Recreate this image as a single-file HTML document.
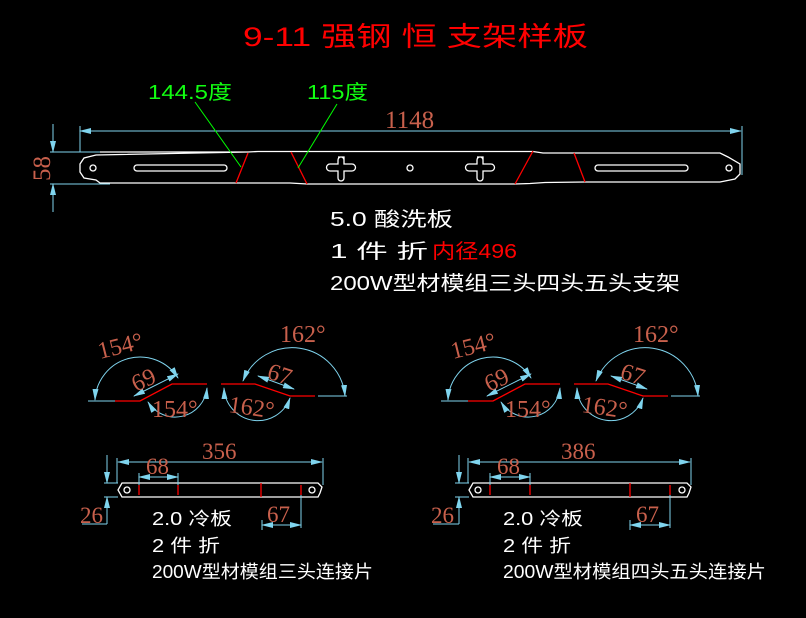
<!DOCTYPE html>
<html><head><meta charset="utf-8"><style>
html,body{margin:0;padding:0;background:#000;}
svg{display:block}
.c{stroke:#7fd4ee;fill:none;stroke-width:1}
.w{stroke:#fff;fill:none;stroke-width:1.3}
.r{stroke:#f00;fill:none;stroke-width:1.3}
.d{fill:#c8604c;font-family:"Liberation Serif",serif;}
.t{fill:#fff;font-family:"Liberation Sans","Noto Sans CJK SC",sans-serif;}
</style></head><body>
<svg width="806" height="618" viewBox="0 0 806 618" xmlns="http://www.w3.org/2000/svg">
<defs>
<marker id="a" markerWidth="12" markerHeight="6" refX="11" refY="3" orient="auto" markerUnits="userSpaceOnUse"><path d="M0,0 L12,3 L0,6 Z" fill="#7fd4ee"/></marker>
<marker id="b" markerWidth="12" markerHeight="6" refX="1" refY="3" orient="auto" markerUnits="userSpaceOnUse"><path d="M12,0 L0,3 L12,6 Z" fill="#7fd4ee"/></marker>
</defs>
<text x="243" y="46" fill="#f00" font-size="27" font-family="Liberation Sans,Noto Sans CJK SC,sans-serif" textLength="345" lengthAdjust="spacingAndGlyphs">9-11 强钢 恒 支架样板</text>

<line class="c" x1="80" y1="131" x2="741" y2="131" marker-start="url(#b)" marker-end="url(#a)"/>
<line class="c" x1="80" y1="126" x2="80" y2="152"/>
<line class="c" x1="742" y1="126" x2="742" y2="175"/>
<text class="d" x="385" y="128" font-size="25">1148</text>
<line class="c" x1="50" y1="152" x2="110" y2="152"/>
<line class="c" x1="50" y1="184" x2="110" y2="184"/>
<line class="c" x1="53" y1="124" x2="53" y2="152" marker-end="url(#a)"/>
<line class="c" x1="53" y1="212" x2="53" y2="184" marker-end="url(#a)"/>
<text class="d" font-size="25" transform="translate(50,181) rotate(-90)">58</text>

<path class="w" d="M100,152 L248,152 M248,152 L258,151.5 L291,151.5 L533,151.5 L543,153 L574,153 L720,153 L728,157 L740,164 L740,174 L735,179 L720,182 L585,182 L545,182.5 L530,183.5 L515,184 L307,184 L290,183 L236,183 L100,183 L96,180 L84,178 L80,172 L80,164 L84,158 L96,155 Z"/>
<circle class="w" cx="93" cy="168" r="3"/>
<circle class="w" cx="410" cy="168" r="3"/>
<circle class="w" cx="729" cy="168" r="3"/>
<rect class="w" x="134" y="165" width="93" height="6" rx="3"/>
<rect class="w" x="595" y="165" width="93" height="6" rx="3"/>
<path class="w" d="M338,157 h6 v7 h8 a3,3 0 0 1 0,7 h-8 v7 a3,3 0 0 1 -6,0 v-7 h-8 a3,3 0 0 1 0,-7 h8 v-4 a3,3 0 0 1 6,0"/>
<path class="w" d="M477,157 h6 v7 h8 a3,3 0 0 1 0,7 h-8 v7 a3,3 0 0 1 -6,0 v-7 h-8 a3,3 0 0 1 0,-7 h8 v-4 a3,3 0 0 1 6,0"/>
<line class="r" x1="248" y1="153" x2="236" y2="183"/>
<line class="r" x1="291" y1="152" x2="307" y2="184"/>
<line class="r" x1="533" y1="151" x2="515" y2="184"/>
<line class="r" x1="574" y1="153" x2="585" y2="182"/>
<line x1="195" y1="102" x2="241" y2="167" stroke="#0f0" stroke-width="1"/>
<line x1="337" y1="104" x2="298" y2="168" stroke="#0f0" stroke-width="1"/>
<text x="148" y="99" fill="#1f1" font-size="20" font-family="Liberation Sans,Noto Sans CJK SC,sans-serif" textLength="84" lengthAdjust="spacingAndGlyphs">144.5度</text>
<text x="307" y="99" fill="#1f1" font-size="20" font-family="Liberation Sans,Noto Sans CJK SC,sans-serif" textLength="61" lengthAdjust="spacingAndGlyphs">115度</text>

<text class="t" x="330" y="226" font-size="20" textLength="123" lengthAdjust="spacingAndGlyphs">5.0 酸洗板</text>
<text class="t" x="330" y="258" font-size="20" textLength="98" lengthAdjust="spacingAndGlyphs">1 件 折</text>
<text x="432" y="258" fill="#f00" font-size="20" font-family="Liberation Sans,Noto Sans CJK SC,sans-serif" textLength="85" lengthAdjust="spacingAndGlyphs">内径496</text>
<text class="t" x="330" y="290" font-size="20" textLength="350" lengthAdjust="spacingAndGlyphs">200W型材模组三头四头五头支架</text>

<g id="bend">
<path class="r" d="M115,401 L140,401 L172,384 L207,384 M221,384 L255,384 L290,396 L315,396"/>
<path class="c" d="M88,401 L115,401 M318,396 L347,396"/>
<path class="c" d="M178,378 A45,45 0 0 0 95,400" marker-start="url(#b)" marker-end="url(#a)"/>
<path class="c" d="M148,402 A32,32 0 0 0 207,388" marker-start="url(#b)" marker-end="url(#a)"/>
<path class="c" d="M243,381 A53,53 0 0 1 345,396" marker-start="url(#b)" marker-end="url(#a)"/>
<path class="c" d="M224,388 A34,34 0 0 0 290,398" marker-start="url(#b)" marker-end="url(#a)"/>
<line class="c" x1="134" y1="396" x2="178" y2="374" marker-start="url(#b)" marker-end="url(#a)"/>
<line class="c" x1="258" y1="376" x2="294" y2="389" marker-start="url(#b)" marker-end="url(#a)"/>
<text class="d" font-size="24" transform="translate(100,359) rotate(-14)">154°</text>
<text class="d" font-size="24" transform="translate(136,392) rotate(-25)">69</text>
<text class="d" font-size="24" x="152" y="417">154°</text>
<text class="d" font-size="24" x="280" y="342">162°</text>
<text class="d" font-size="24" transform="translate(266,378) rotate(18)">67</text>
<text class="d" font-size="24" transform="translate(228,412) rotate(8)">162°</text>
</g>
<use href="#bend" transform="translate(353,0)"/>

<path class="w" d="M122,483 L318,483 L322,487 L320,493 L318,497 L122,497 L118,490 Z"/>
<circle class="w" cx="127" cy="490" r="3"/>
<circle class="w" cx="312" cy="490" r="3"/>
<path class="r" d="M139,485 v10 M178,485 v10 M261,483 v14 M301,485 v10"/>
<line class="c" x1="118" y1="462" x2="322" y2="462" marker-start="url(#b)" marker-end="url(#a)"/>
<line class="c" x1="117" y1="458" x2="117" y2="483"/><line class="c" x1="323" y1="458" x2="323" y2="485"/>
<line class="c" x1="139" y1="477" x2="178" y2="477" marker-start="url(#b)" marker-end="url(#a)"/>
<line class="c" x1="139" y1="473" x2="139" y2="485"/><line class="c" x1="178" y1="473" x2="178" y2="485"/>
<line class="c" x1="262" y1="525" x2="301" y2="525" marker-start="url(#b)" marker-end="url(#a)"/>
<line class="c" x1="301" y1="495" x2="301" y2="528"/><line class="c" x1="262" y1="520" x2="262" y2="530"/>
<line class="c" x1="104" y1="483" x2="118" y2="483"/><line class="c" x1="104" y1="497" x2="118" y2="497"/>
<line class="c" x1="107" y1="455" x2="107" y2="483" marker-end="url(#a)"/>
<line class="c" x1="107" y1="524" x2="107" y2="497" marker-end="url(#a)"/>
<line class="c" x1="82" y1="524" x2="107" y2="524"/>
<text class="d" font-size="23" x="202" y="459">356</text>
<text class="d" font-size="23" x="146" y="474">68</text>
<text class="d" font-size="23" x="267" y="522">67</text>
<text class="d" font-size="23" x="80" y="523">26</text>
<text class="t" x="152" y="525" font-size="18" textLength="80" lengthAdjust="spacingAndGlyphs">2.0 冷板</text>
<text class="t" x="152" y="552" font-size="18" textLength="68" lengthAdjust="spacingAndGlyphs">2 件 折</text>
<text class="t" x="152" y="578" font-size="18" textLength="221" lengthAdjust="spacingAndGlyphs">200W型材模组三头连接片</text>

<path class="w" d="M473,483 L687,483 L691,487 L689,493 L687,497 L473,497 L469,490 Z"/>
<circle class="w" cx="478" cy="490" r="3"/>
<circle class="w" cx="682" cy="490" r="3"/>
<path class="r" d="M490,485 v10 M530,485 v10 M630,483 v14 M670,485 v10"/>
<line class="c" x1="469" y1="462" x2="690" y2="462" marker-start="url(#b)" marker-end="url(#a)"/>
<line class="c" x1="468" y1="458" x2="468" y2="483"/><line class="c" x1="691" y1="458" x2="691" y2="485"/>
<line class="c" x1="490" y1="477" x2="530" y2="477" marker-start="url(#b)" marker-end="url(#a)"/>
<line class="c" x1="490" y1="473" x2="490" y2="485"/><line class="c" x1="530" y1="473" x2="530" y2="485"/>
<line class="c" x1="630" y1="525" x2="670" y2="525" marker-start="url(#b)" marker-end="url(#a)"/>
<line class="c" x1="670" y1="495" x2="670" y2="528"/><line class="c" x1="630" y1="520" x2="630" y2="530"/>
<line class="c" x1="455" y1="483" x2="469" y2="483"/><line class="c" x1="455" y1="497" x2="469" y2="497"/>
<line class="c" x1="459" y1="455" x2="459" y2="483" marker-end="url(#a)"/>
<line class="c" x1="459" y1="524" x2="459" y2="497" marker-end="url(#a)"/>
<line class="c" x1="433" y1="524" x2="459" y2="524"/>
<text class="d" font-size="23" x="561" y="459">386</text>
<text class="d" font-size="23" x="497" y="474">68</text>
<text class="d" font-size="23" x="636" y="522">67</text>
<text class="d" font-size="23" x="431" y="523">26</text>
<text class="t" x="503" y="525" font-size="18" textLength="80" lengthAdjust="spacingAndGlyphs">2.0 冷板</text>
<text class="t" x="503" y="552" font-size="18" textLength="68" lengthAdjust="spacingAndGlyphs">2 件 折</text>
<text class="t" x="503" y="578" font-size="18" textLength="263" lengthAdjust="spacingAndGlyphs">200W型材模组四头五头连接片</text>
</svg>
</body></html>
